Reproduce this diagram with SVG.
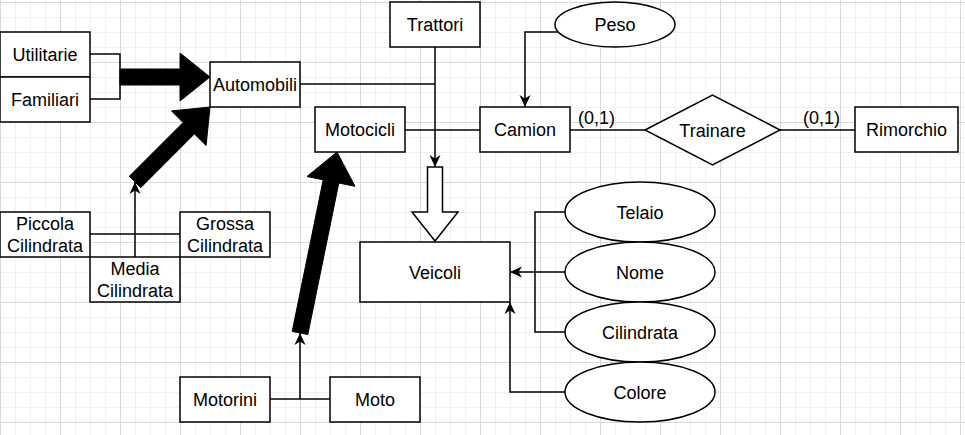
<svg xmlns="http://www.w3.org/2000/svg" width="965" height="435" viewBox="0 0 965 435">
<style>
.box{fill:#fff;stroke:#000;stroke-width:1.5}
.ell{fill:#fff;stroke:#000;stroke-width:1.5}
.ln{fill:none;stroke:#000;stroke-width:1.5}
.arr{marker-end:url(#ar)}
.thick{fill:#000;stroke:#000;stroke-width:1}
.hollow{fill:#fff;stroke:#000;stroke-width:1.5}
text{font-family:"Liberation Sans",Arial,Helvetica,sans-serif;font-size:18px;fill:#000;text-anchor:middle}
.lbl{text-anchor:start}
</style>
<defs>
<pattern id="grid" patternUnits="userSpaceOnUse" x="0" y="2" width="60" height="60">
<rect x="15" y="0" width="1" height="60" fill="#f1f1f1"/>
<rect x="30" y="0" width="1" height="60" fill="#f1f1f1"/>
<rect x="45" y="0" width="1" height="60" fill="#f1f1f1"/>
<rect x="0" y="15" width="60" height="1" fill="#f1f1f1"/>
<rect x="0" y="30" width="60" height="1" fill="#f1f1f1"/>
<rect x="0" y="45" width="60" height="1" fill="#f1f1f1"/>
<rect x="0" y="0" width="1" height="60" fill="#d9d9d9"/>
<rect x="0" y="0" width="60" height="1" fill="#d9d9d9"/>
</pattern>
<marker id="ar" markerUnits="userSpaceOnUse" markerWidth="13" markerHeight="13" viewBox="0 0 13 13" refX="12" refY="6.5" orient="auto">
<path d="M0,1 L12,6.5 L0,12 L3.5,6.5 Z" fill="#000"/>
</marker>
</defs>
<rect x="0" y="0" width="965" height="435" fill="#fff"/>
<rect x="0" y="0" width="965" height="435" fill="url(#grid)"/>

<g id="connectors">
<path class="ln" d="M90,54 H120 V99 H90"/>
<polygon class="thick" points="120,69 180,69 180,53 210,77 180,101 180,85 120,85"/>
<path class="ln" d="M90,234 H180"/>
<path class="ln arr" d="M135,257 V182"/>
<polygon class="thick" points="129.3,176.3 183.1,122.5 171.5,110.9 210,107 206.1,145.5 194.4,133.9 140.7,187.7"/>
<path class="ln" d="M270,399 H330"/>
<path class="ln arr" d="M300,399 V333"/>
<polygon class="thick" points="292.2,331.4 323.2,179.8 307,176.5 337,152 355,186.3 338.8,183 307.8,334.6"/>
<path class="ln" d="M300,84 H435"/>
<path class="ln" d="M405,130 H480"/>
<path class="ln arr" d="M435,47 V167"/>
<polygon class="hollow" points="427.5,167 442.5,167 442.5,212 458,212 435,241 412,212 427.5,212"/>
<path class="ln arr" d="M558,32 H525 V107"/>
<path class="ln" d="M570,130 H645"/>
<path class="ln" d="M780,130 H855"/>
<path class="ln" d="M565,212 H535 V332 H565"/>
<path class="ln arr" d="M565,272 H510"/>
<path class="ln arr" d="M565,392 H510 V302"/>
<text class="lbl" x="578" y="124">(0,1)</text>
<text class="lbl" x="803" y="124">(0,1)</text>
</g>

<g id="utilitarie"><rect class="box" x="0" y="32" width="90" height="45"/><text x="45" y="60.5">Utilitarie</text></g>
<g id="familiari"><rect class="box" x="0" y="77" width="90" height="45"/><text x="45" y="105.5">Familiari</text></g>
<g id="automobili"><rect class="box" x="210" y="62" width="90" height="45"/><text x="255" y="90.5">Automobili</text></g>
<g id="piccola"><rect class="box" x="0" y="212" width="90" height="45"/><text x="45" y="230">Piccola</text><text x="45" y="251.5">Cilindrata</text></g>
<g id="grossa"><rect class="box" x="180" y="212" width="90" height="45"/><text x="225" y="230">Grossa</text><text x="225" y="251.5">Cilindrata</text></g>
<g id="media"><rect class="box" x="90" y="257" width="90" height="45"/><text x="135" y="275">Media</text><text x="135" y="296.5">Cilindrata</text></g>
<g id="motorini"><rect class="box" x="180" y="377" width="90" height="45"/><text x="225" y="405.5">Motorini</text></g>
<g id="moto"><rect class="box" x="330" y="377" width="90" height="45"/><text x="375" y="405.5">Moto</text></g>
<g id="trattori"><rect class="box" x="390" y="2" width="90" height="45"/><text x="435" y="30.5">Trattori</text></g>
<g id="motocicli"><rect class="box" x="315" y="107" width="90" height="45"/><text x="360" y="135.5">Motocicli</text></g>
<g id="camion"><rect class="box" x="480" y="107" width="90" height="45"/><text x="525" y="135.5">Camion</text></g>
<g id="peso"><ellipse class="ell" cx="615" cy="24.5" rx="60" ry="22.5"/><text x="615" y="31">Peso</text></g>
<g id="trainare"><polygon class="box" points="645,130 712.5,95 780,130 712.5,165"/><text x="712.5" y="136.5">Trainare</text></g>
<g id="rimorchio"><rect class="box" x="855" y="107" width="103" height="45"/><text x="906.5" y="135.5">Rimorchio</text></g>
<g id="veicoli"><rect class="box" x="360" y="242" width="150" height="60"/><text x="435" y="278.5">Veicoli</text></g>
<g id="telaio"><ellipse class="ell" cx="640" cy="212" rx="75" ry="30"/><text x="640" y="218.5">Telaio</text></g>
<g id="nome"><ellipse class="ell" cx="640" cy="272" rx="75" ry="30"/><text x="640" y="278.5">Nome</text></g>
<g id="cilindrata"><ellipse class="ell" cx="640" cy="332" rx="75" ry="30"/><text x="640" y="338.5">Cilindrata</text></g>
<g id="colore"><ellipse class="ell" cx="640" cy="392" rx="75" ry="30"/><text x="640" y="398.5">Colore</text></g>
</svg>
